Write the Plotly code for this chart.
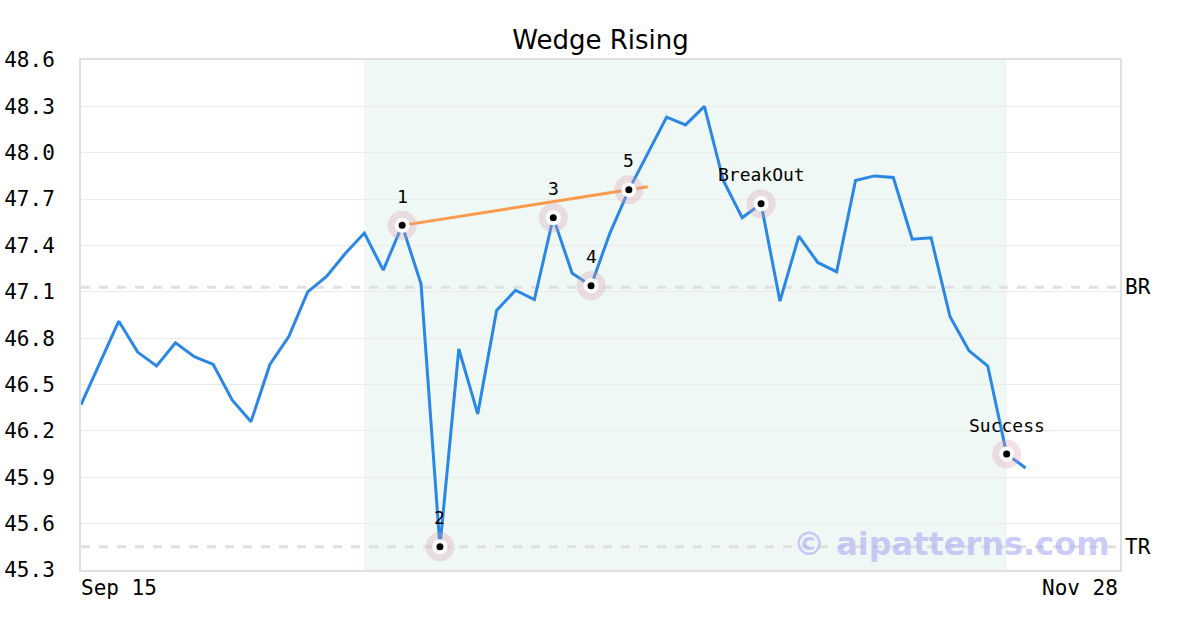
import plotly.graph_objects as go

# ---- data ----
prices = [46.37, 46.64, 46.91, 46.71, 46.62, 46.77, 46.68, 46.63, 46.40, 46.26,
          46.63, 46.81, 47.10, 47.20, 47.35, 47.48, 47.24, 47.53, 47.15, 45.45,
          46.73, 46.31, 46.98, 47.11, 47.05, 47.58, 47.22, 47.14, 47.48, 47.76,
          47.99, 48.23, 48.18, 48.30, 47.82, 47.58, 47.67, 47.04, 47.46, 47.29,
          47.23, 47.82, 47.85, 47.84, 47.44, 47.45, 46.94, 46.72, 46.62, 46.05,
          45.96]
x_idx = list(range(len(prices)))

point_idx = [17, 19, 25, 27, 29, 36, 49]
point_labels = ["1", "2", "3", "4", "5", "BreakOut", "Success"]

wedge_x = [17, 30]
wedge_y = [47.53, 47.78]

shade_range = [15, 49]
br_level = 47.13
tr_level = 45.45
level_labels = ["BR", "TR"]

x_tick_labels = ["Sep 15", "Nov 28"]
y_min, y_max, y_step = 45.3, 48.6, 0.3
x_max = 55.0

title = "Wedge Rising"
watermark = "© aipatterns.com"

MONO = "DejaVu Sans Mono"

fig = go.Figure()

fig.add_trace(go.Scatter(x=x_idx, y=prices, mode="lines",
                         line=dict(color="#2b87e6", width=3), hoverinfo="skip"))
fig.add_trace(go.Scatter(x=wedge_x, y=wedge_y, mode="lines",
                         line=dict(color="#fb9a4a", width=3), hoverinfo="skip"))

px_ = [x_idx[i] for i in point_idx]
py_ = [prices[i] for i in point_idx]
fig.add_trace(go.Scatter(x=px_, y=py_, mode="markers", hoverinfo="skip",
                         marker=dict(size=29, color="rgba(215,155,175,0.3)", line=dict(width=0))))
fig.add_trace(go.Scatter(x=px_, y=py_, mode="markers", hoverinfo="skip",
                         marker=dict(size=15, color="white", line=dict(width=0))))
fig.add_trace(go.Scatter(x=px_, y=py_, mode="markers", hoverinfo="skip",
                         marker=dict(size=7, color="black", line=dict(width=0))))

shapes = [
    dict(type="rect", xref="x", yref="paper", x0=shade_range[0], x1=shade_range[1],
         y0=0, y1=1, fillcolor="#eff8f4", line=dict(width=0), layer="below"),
]
for lvl in (br_level, tr_level):
    shapes.append(dict(type="line", xref="paper", yref="y", x0=0, x1=1, y0=lvl, y1=lvl,
                       line=dict(color="#e0e0e0", width=3, dash="dash"), layer="below"))

annotations = []
for xv, yv, lab in zip(px_, py_, point_labels):
    annotations.append(dict(x=xv, y=yv, text=lab, showarrow=False, yshift=29,
                            font=dict(family=MONO, size=18, color="black")))
for lvl, lab in zip((br_level, tr_level), level_labels):
    annotations.append(dict(xref="paper", x=1, y=lvl, yref="y", text=lab, showarrow=False,
                            xanchor="left", xshift=3,
                            font=dict(family=MONO, size=21, color="black")))
annotations.append(dict(xref="paper", yref="paper", x=0, y=0, text=x_tick_labels[0],
                        showarrow=False, xanchor="left", yanchor="top", yshift=-4, xshift=-2,
                        font=dict(family=MONO, size=21, color="black")))
annotations.append(dict(xref="paper", yref="paper", x=1, y=0, text=x_tick_labels[1],
                        showarrow=False, xanchor="right", yanchor="top", yshift=-4, xshift=0,
                        font=dict(family=MONO, size=21, color="black")))
annotations.append(dict(xref="paper", yref="y", x=1, y=tr_level, text=watermark,
                        showarrow=False, xanchor="right", xshift=-8, yshift=3,
                        font=dict(family="DejaVu Sans", size=32, color="rgba(170,170,245,0.6)",
                                  weight="bold")))

fig.update_layout(
    width=1200, height=630,
    margin=dict(l=81, r=80, t=60, b=60, autoexpand=False),
    paper_bgcolor="white", plot_bgcolor="white",
    showlegend=False,
    hovermode=False,
    title=dict(text=title, x=0.5, xanchor="center", xref="paper",
               y=1 - 40 / 630, yanchor="middle", yref="container",
               font=dict(family="DejaVu Sans", size=26, color="black")),
    shapes=shapes, annotations=annotations,
    xaxis=dict(range=[0, x_max], showgrid=False, zeroline=False, showticklabels=False,
               showline=True, mirror=True, linecolor="#e0e0e0", linewidth=2, ticks="",
               automargin=False),
    yaxis=dict(range=[y_min, y_max], tick0=y_min, dtick=y_step, tickformat=".1f",
               showgrid=True, gridcolor="#ebebeb", gridwidth=1, zeroline=False,
               showline=True, mirror=True, linecolor="#e0e0e0", linewidth=2,
               ticks="", ticklabelstandoff=20, automargin=False,
               tickfont=dict(family=MONO, size=21, color="black")),
)

fig.write_html("out.html", config={"displayModeBar": False},
               post_script="document.body.style.margin='0';document.body.style.padding='0';")
